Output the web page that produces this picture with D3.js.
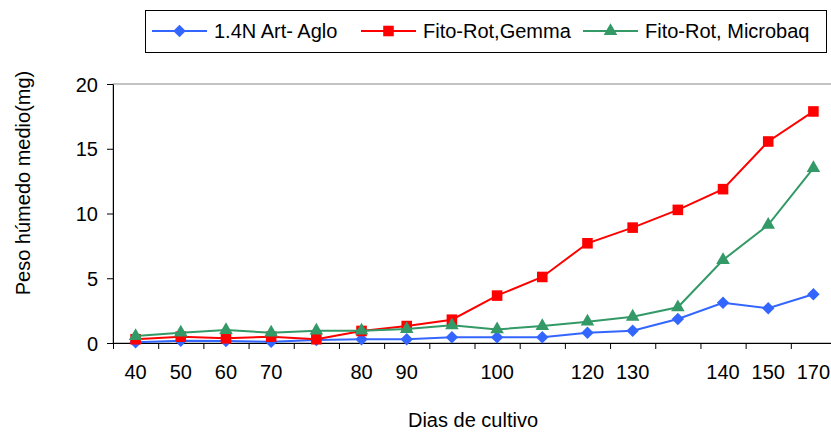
<!DOCTYPE html>
<html>
<head>
<meta charset="utf-8">
<script src="https://cdn.jsdelivr.net/npm/d3@7"></script>
<style>
  body { margin: 0; background: #fff; }
  svg { display: block; font-family: "Liberation Sans", Arial, sans-serif; }
  .axis path, .axis line { stroke: #000; }
  .axis text { font-size: 20px; fill: #000; font-family: "Liberation Sans", Arial, sans-serif; }
</style>
</head>
<body>
<div id="chart"></div>
<script>
// x categories (blank ones have no label in the original)
const dias = ["40", "50", "60", "70", "", "80", "90", "", "100", "", "120", "130", "", "140", "150", "170"];

const artAglo = [0.05, 0.18, 0.15, 0.1, 0.23, 0.29, 0.29, 0.45, 0.44, 0.44, 0.8, 0.95, 1.85, 3.11, 2.68, 3.76];
const gemma = [0.29, 0.49, 0.36, 0.49, 0.29, 0.93, 1.31, 1.8, 3.66, 5.1, 7.7, 8.91, 10.28, 11.88, 15.56, 17.88];
const microbaq = [0.54, 0.8, 1.0, 0.8, 0.95, 0.95, 1.08, 1.37, 1.05, 1.31, 1.65, 2.03, 2.76, 6.41, 9.12, 13.5];

const seriesNames = ["1.4N Art- Aglo", "Fito-Rot,Gemma", "Fito-Rot, Microbaq"];
const yTicks = [0, 5, 10, 15, 20];

const width = 831, height = 433;
const plot = {left: 113, right: 836, top: 84, bottom: 343};

const svg = d3.select("#chart").append("svg")
    .attr("width", width)
    .attr("height", height);

const x = d3.scaleBand()
    .domain(d3.range(dias.length))
    .range([plot.left, plot.right]);

// boundaries between categories, for the tick marks
const xEdge = d3.scaleLinear()
    .domain([0, dias.length])
    .range([plot.left, plot.right]);

const y = d3.scaleLinear()
    .domain([0, 20])
    .range([plot.bottom, plot.top]);

// plot area border (grey)
svg.append("rect")
    .attr("x", plot.left)
    .attr("y", plot.top)
    .attr("width", plot.right - plot.left)
    .attr("height", plot.bottom - plot.top)
    .attr("fill", "none")
    .attr("stroke", "#888")
    .attr("stroke-width", 1);

// y axis
svg.append("g")
    .attr("class", "axis")
    .attr("transform", `translate(${plot.left},0)`)
    .call(d3.axisLeft(y).tickValues(yTicks).tickSize(6).tickSizeOuter(0).tickPadding(9))
    .selectAll("text").attr("dy", "0.36em");

// x axis: tick marks at category edges
svg.append("g")
    .attr("class", "axis")
    .attr("transform", `translate(0,${plot.bottom})`)
    .call(d3.axisBottom(xEdge).tickValues(d3.range(dias.length + 1)).tickSize(6).tickSizeOuter(0).tickFormat(""));

// x axis labels, centred on the categories
svg.append("g")
    .attr("class", "axis")
    .attr("transform", `translate(0,${plot.bottom})`)
    .call(d3.axisBottom(x).tickSize(0).tickPadding(22).tickFormat(i => dias[i]))
    .call(g => g.select(".domain").remove());

// axis titles
svg.append("text")
    .attr("x", 473)
    .attr("y", 427)
    .attr("text-anchor", "middle")
    .attr("font-size", 20)
    .text("Dias de cultivo");

svg.append("text")
    .attr("transform", "translate(30,183) rotate(-90)")
    .attr("text-anchor", "middle")
    .attr("font-size", 20)
    .text("Peso húmedo medio(mg)");

const series = [
    {name: seriesNames[0], values: artAglo, color: "#3366FF", symbol: d3.symbolSquare, size: 78, rotate: 45},
    {name: seriesNames[1], values: gemma, color: "#FF0000", symbol: d3.symbolSquare, size: 112, rotate: 0},
    {name: seriesNames[2], values: microbaq, color: "#339966", symbol: d3.symbolTriangle, size: 80, rotate: 0}
];

const line = d3.line()
    .x((d, i) => x(i) + x.bandwidth() / 2)
    .y(d => y(d));

series.forEach(s => {
    const g = svg.append("g");
    g.append("path")
        .datum(s.values)
        .attr("d", line)
        .attr("fill", "none")
        .attr("stroke", s.color)
        .attr("stroke-width", 2);

    g.selectAll("path.marker")
        .data(s.values)
        .enter().append("path")
        .attr("class", "marker")
        .attr("d", d3.symbol().type(s.symbol).size(s.size))
        .attr("transform", (d, i) => `translate(${x(i) + x.bandwidth() / 2},${y(d)}) rotate(${s.rotate})`)
        .attr("fill", s.color);
});

// legend
const legend = svg.append("g");
legend.append("rect")
    .attr("x", 145.5)
    .attr("y", 10.5)
    .attr("width", 681)
    .attr("height", 42)
    .attr("fill", "#fff")
    .attr("stroke", "#000")
    .attr("stroke-width", 1);

const legendX = [152, 361, 583];
series.forEach((s, i) => {
    const lg = legend.append("g").attr("transform", `translate(${legendX[i]},31)`);
    lg.append("line")
        .attr("x1", 0).attr("x2", 55)
        .attr("stroke", s.color)
        .attr("stroke-width", 2);
    lg.append("path")
        .attr("d", d3.symbol().type(s.symbol).size(s.size))
        .attr("transform", `translate(27.5,0) rotate(${s.rotate})`)
        .attr("fill", s.color);
    lg.append("text")
        .attr("x", 62)
        .attr("dy", "0.36em")
        .attr("font-size", 20)
        .text(s.name);
});
</script>
</body>
</html>
